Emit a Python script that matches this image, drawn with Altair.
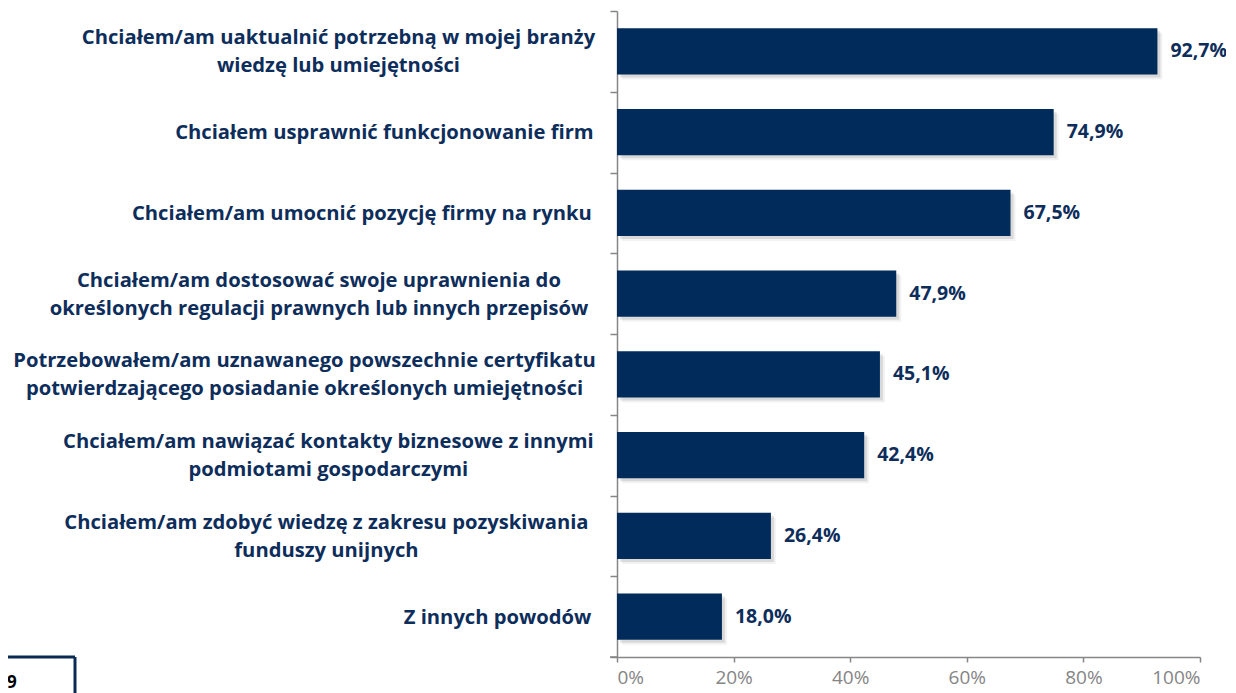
import altair as alt
import pandas as pd

# ---- data ----
label_lines = [
    ["Chciałem/am uaktualnić potrzebną w mojej branży", "wiedzę lub umiejętności"],
    ["Chciałem usprawnić funkcjonowanie firm"],
    ["Chciałem/am umocnić pozycję firmy na rynku"],
    ["Chciałem/am dostosować swoje uprawnienia do", "określonych regulacji prawnych lub innych przepisów"],
    ["Potrzebowałem/am uznawanego powszechnie certyfikatu", "potwierdzającego posiadanie określonych umiejętności"],
    ["Chciałem/am nawiązać kontakty biznesowe z innymi", "podmiotami gospodarczymi"],
    ["Chciałem/am zdobyć wiedzę z zakresu pozyskiwania", "funduszy unijnych"],
    ["Z innych powodów"],
]
values = [92.7, 74.9, 67.5, 47.9, 45.1, 42.4, 26.4, 18.0]
x_ticks = [0, 20, 40, 60, 80, 100]

NAVY = "#002b5a"
TEXT_NAVY = "#0d2d5b"
GRAY = "#868686"
LABEL_FONT = "Open Sans"
LABEL_SIZE = 20.2
LINE_H = 28
PLOT_W = 583
PLOT_H = 646
LABEL_GAP = 22  # gap between label block right edge and the axis
HALF_BAND = PLOT_H / len(label_lines) / 2.0

# approximate advance widths (Arial-bold-like, per 1000 em), scaled for the font
W = {}
for ch in "iljłI|!.,:;'": W[ch] = 278
for ch in "ft/ ": W[ch] = 300
W["r"] = 389
for ch in "zżź": W[ch] = 500
for ch in "acekvsxyąćęśó0123456789": W[ch] = 556
for ch in "bdghnopquńó": W[ch] = 611
W["w"] = 778
W["m"] = 889
W["%"] = 889
for ch in "CDHNRU": W[ch] = 722
for ch in "PZEBS": W[ch] = 667
K = 1.06


def text_width(s):
    return sum(W.get(c, 580) for c in s) / 1000.0 * LABEL_SIZE * K


keys = [ln[0] for ln in label_lines]
bar_rows = []
line_rows = []
for ln, v in zip(label_lines, values):
    block_w = max(text_width(s) for s in ln)
    bar_rows.append({
        "key": ln[0],
        "value": v,
        "vlabel": f"{v:.1f}".replace(".", ",") + "%",
    })
    n = len(ln)
    for i, s in enumerate(ln):
        line_rows.append({
            "key": ln[0],
            "line": s,
            "cx": -LABEL_GAP - block_w / 2.0,
            "off": HALF_BAND + (i - (n - 1) / 2.0) * LINE_H + 1,
        })
df = pd.DataFrame(bar_rows)
df_lines = pd.DataFrame(line_rows)

y_axis = alt.Axis(
    title=None, labels=False, tickBand="extent", domainColor=GRAY,
    tickColor=GRAY, tickSize=7, domainWidth=1.5, tickWidth=1.5,
)
y_enc = alt.Y(
    "key:N",
    sort=keys,
    scale=alt.Scale(paddingInner=0, paddingOuter=0),
    axis=y_axis,
)
x_enc = alt.X(
    "value:Q",
    scale=alt.Scale(domain=[0, 100], nice=False),
    axis=alt.Axis(
        title=None, values=x_ticks, labelExpr="datum.value + '%'", grid=False,
        domainColor=GRAY, tickColor=GRAY, tickSize=5, domainWidth=1.5, tickWidth=1.5,
        labelColor="#858585", labelFont="Open Sans", labelFontSize=19,
        labelPadding=6,
    ),
)

base = alt.Chart(df)

shadow1 = base.mark_bar(color="#000000", opacity=0.10, xOffset=3, yOffset=3,
                        height=alt.RelativeBandSize(0.57)).encode(x=x_enc, y=y_enc)
shadow2 = base.mark_bar(color="#000000", opacity=0.05, xOffset=5, yOffset=5,
                        height=alt.RelativeBandSize(0.57)).encode(x=x_enc, y=y_enc)
bars = base.mark_bar(color=NAVY, height=alt.RelativeBandSize(0.57)).encode(x=x_enc, y=y_enc)

values_text = base.mark_text(
    align="left", baseline="middle", dx=13, font=LABEL_FONT, fontWeight="bold",
    fontSize=19.5, color=TEXT_NAVY,
).encode(x=x_enc, y=y_enc, text="vlabel:N")

main = alt.layer(shadow2, shadow1, bars, values_text)

cat_text = alt.Chart(df_lines).mark_text(
    align="center", baseline="middle",
    font=LABEL_FONT, fontWeight="bold", fontSize=LABEL_SIZE, color=TEXT_NAVY,
).encode(
    x=alt.X("cx:Q", scale=None, axis=None),
    y=alt.Y("key:N", sort=keys, axis=y_axis),
    yOffset=alt.YOffset("off:Q", scale=None),
    text="line:N",
)

# bottom tick of the y axis and the clipped page-number box
corner = pd.DataFrame({"p": [0]})
bottom_tick = alt.Chart(corner).mark_rule(color=GRAY, strokeWidth=1.5).encode(
    x=alt.value(-7), x2=alt.value(0), y=alt.value(PLOT_H)
)
box_top = alt.Chart(corner).mark_rule(color="#0a2a55", strokeWidth=3).encode(
    x=alt.value(-620), x2=alt.value(-542), y=alt.value(PLOT_H)
)
box_side = alt.Chart(corner).mark_rule(color="#0a2a55", strokeWidth=3).encode(
    x=alt.value(-542), y=alt.value(PLOT_H), y2=alt.value(PLOT_H + 45)
)
page_no = alt.Chart(corner).mark_text(
    text="9", align="left", baseline="middle", font="Open Sans", fontWeight="bold",
    fontSize=17, color="#000000",
).encode(x=alt.value(-610), y=alt.value(PLOT_H + 26))

chart = alt.layer(
    main, cat_text, bottom_tick, box_top, box_side, page_no
).resolve_scale(x="independent").properties(
    width=PLOT_W,
    height=PLOT_H,
    autosize=alt.AutoSizeParams(type="none"),
    padding={"left": 609, "top": 3, "right": 26, "bottom": 36},
).configure_view(stroke=None)

chart.save("out.html", embed_options={"renderer": "svg", "actions": False})
